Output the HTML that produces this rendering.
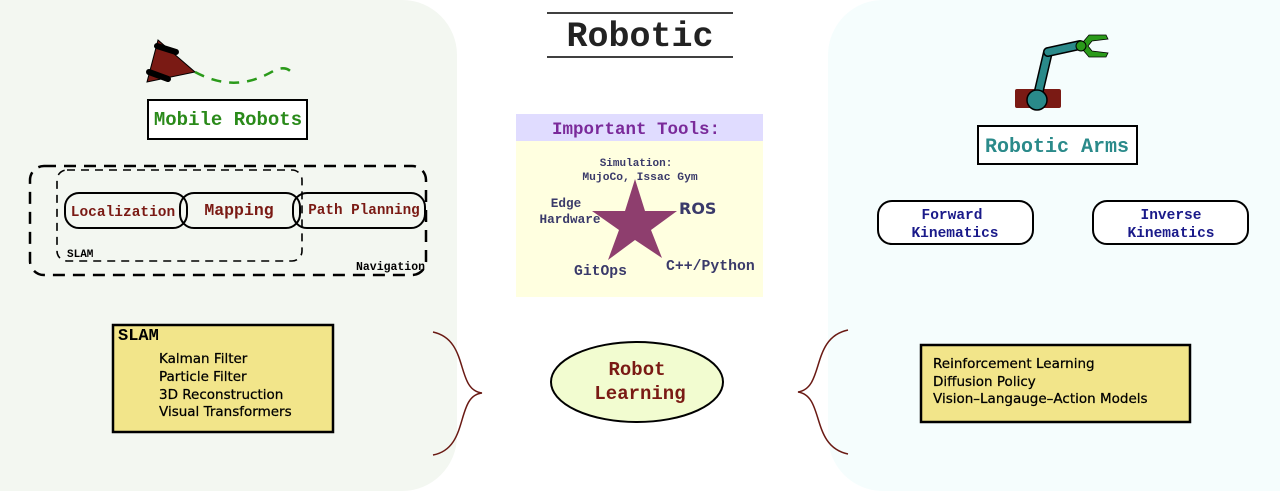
<!DOCTYPE html>
<html><head><meta charset="utf-8"><style>
html,body{margin:0;padding:0;background:#fff;overflow:hidden;width:1280px;height:491px;}
svg{display:block;}
svg text{font-family:"Liberation Mono",monospace;font-weight:bold;}
svg text.s{font-family:"DejaVu Sans","Liberation Sans",sans-serif;font-weight:normal;stroke:#000;stroke-width:0.25;}
</style></head><body>
<svg width="1280" height="491" viewBox="0 0 1280 491" xmlns="http://www.w3.org/2000/svg">
<defs><clipPath id="c"><rect x="0" y="0" width="1280" height="491"/></clipPath></defs>
<g clip-path="url(#c)">
<rect x="-60" y="0" width="517" height="491" rx="55" fill="#f3f7f1"/>
<rect x="828" y="0" width="510" height="491" rx="55" fill="#f5fdfd"/>
</g>
<!-- title -->
<line x1="547" y1="13" x2="733" y2="13" stroke="#000" stroke-width="1.5"/>
<line x1="547" y1="57" x2="733" y2="57" stroke="#000" stroke-width="1.5"/>
<text x="640" y="46" font-size="35" text-anchor="middle" fill="#222">Robotic</text>
<!-- robot -->
<polygon points="158,40 195,72 147,82" fill="#7a1a14" stroke="#000" stroke-width="1"/>
<line x1="157" y1="46" x2="176" y2="52" stroke="#000" stroke-width="6" stroke-linecap="round"/>
<line x1="149" y1="72" x2="168" y2="79" stroke="#000" stroke-width="6" stroke-linecap="round"/>
<path d="M195,72 C225,88 250,85 275,70 C285,66 290,70 292,73" fill="none" stroke="#2a9a1a" stroke-width="2.5" stroke-dasharray="10,8"/>
<rect x="148" y="100" width="159" height="39" fill="#fff" stroke="#000" stroke-width="2"/>
<text x="228" y="125" font-size="19" text-anchor="middle" fill="#2a8a1a">Mobile Robots</text>
<!-- dashed groups -->
<rect x="30" y="166" width="396" height="109" rx="14" fill="none" stroke="#000" stroke-width="2.5" stroke-dasharray="12,8"/>
<rect x="57" y="170" width="245" height="91" rx="10" fill="none" stroke="#000" stroke-width="1.6" stroke-dasharray="8,6"/>
<rect x="65" y="193" width="122" height="35" rx="14" fill="none" stroke="#000" stroke-width="2"/>
<rect x="180" y="193" width="120" height="35" rx="14" fill="none" stroke="#000" stroke-width="2"/>
<rect x="293" y="193" width="132" height="35" rx="14" fill="none" stroke="#000" stroke-width="2"/>
<text x="123" y="216" font-size="14.5" text-anchor="middle" fill="#7a1a14">Localization</text>
<text x="239" y="215" font-size="16.5" text-anchor="middle" fill="#7a1a14">Mapping</text>
<text x="364" y="214" font-size="14.3" text-anchor="middle" fill="#7a1a14">Path Planning</text>
<text x="67" y="257" font-size="11" fill="#000">SLAM</text>
<text x="356" y="270" font-size="11.5" fill="#000">Navigation</text>
<!-- SLAM box -->
<rect x="113" y="325" width="220" height="107" fill="#f2e58a" stroke="#000" stroke-width="2.5"/>
<text x="118" y="340" font-size="17" fill="#000">SLAM</text>
<text class="s" x="159" y="363" font-size="13.5" fill="#000">Kalman Filter</text>
<text class="s" x="159" y="381" font-size="13.5" fill="#000">Particle Filter</text>
<text class="s" x="159" y="399" font-size="13.5" fill="#000">3D Reconstruction</text>
<text class="s" x="159" y="416" font-size="13.5" fill="#000">Visual Transformers</text>
<!-- braces -->
<path d="M433,332 C470,340 455,390 482,393 C455,396 470,448 433,455" fill="none" stroke="#6a1a14" stroke-width="1.5"/>
<path d="M848,330 C810,338 825,388 798,392 C825,396 810,446 848,454" fill="none" stroke="#6a1a14" stroke-width="1.5"/>
<!-- tools -->
<rect x="516" y="114" width="247" height="27" fill="#e0dcff"/>
<rect x="516" y="141" width="247" height="156" fill="#ffffe0"/>
<text x="636" y="134" font-size="17.5" text-anchor="middle" fill="#7a2a9a">Important Tools:</text>
<polygon points="635,179 645,211 677,211 651,230 662,258 635,240 608,260 619,230 592,211 625,211" fill="#8e3e6e"/>
<text x="636" y="166" font-size="11" text-anchor="middle" fill="#3a3a6a">Simulation:</text>
<text x="640" y="180" font-size="11.3" text-anchor="middle" fill="#3a3a6a">MujoCo, Issac Gym</text>
<text x="566" y="207" font-size="12.7" text-anchor="middle" fill="#3a3a6a">Edge</text>
<text x="570" y="223" font-size="12.7" text-anchor="middle" fill="#3a3a6a">Hardware</text>
<text x="679" y="214" font-size="16" fill="#3a3a6a" style="font-family:'DejaVu Sans',sans-serif;font-weight:bold">ROS</text>
<text x="574" y="275" font-size="14.7" fill="#3a3a6a">GitOps</text>
<text x="666" y="270" font-size="14.8" fill="#3a3a6a">C++/Python</text>
<!-- robot learning -->
<ellipse cx="637" cy="382" rx="86" ry="40" fill="#f2fcd0" stroke="#000" stroke-width="2"/>
<text x="637" y="375" font-size="19" text-anchor="middle" fill="#7a1a14">Robot</text>
<text x="640" y="399" font-size="19" text-anchor="middle" fill="#7a1a14">Learning</text>
<!-- arm -->
<rect x="1015" y="89" width="46" height="19" rx="2" fill="#7a1a14"/>
<line x1="1037" y1="99" x2="1048" y2="52" stroke="#000" stroke-width="10" stroke-linecap="round"/>
<line x1="1037" y1="99" x2="1048" y2="52" stroke="#2a8a8a" stroke-width="7" stroke-linecap="round"/>
<line x1="1048" y1="52" x2="1080" y2="45" stroke="#000" stroke-width="10" stroke-linecap="round"/>
<line x1="1048" y1="52" x2="1080" y2="45" stroke="#2a8a8a" stroke-width="7" stroke-linecap="round"/>
<circle cx="1037" cy="100" r="10" fill="#2a8a8a" stroke="#000" stroke-width="1.5"/>
<path d="M1083,42 L1089,35 L1106,35 L1108,39 L1092,41 L1088,46 L1092,51 L1108,53 L1106,57 L1089,57 L1083,50 Z" fill="#2a9a1a" stroke="#000" stroke-width="0.8"/>
<circle cx="1081" cy="46" r="5" fill="#2a9a1a" stroke="#000" stroke-width="1"/>
<rect x="978" y="126" width="159" height="38" fill="#fff" stroke="#000" stroke-width="2"/>
<text x="1057" y="152" font-size="20" text-anchor="middle" fill="#2a8a8a">Robotic Arms</text>
<rect x="878" y="201" width="155" height="43" rx="14" fill="#fff" stroke="#000" stroke-width="2"/>
<rect x="1093" y="201" width="155" height="43" rx="14" fill="#fff" stroke="#000" stroke-width="2"/>
<text x="952" y="219" font-size="14.5" text-anchor="middle" fill="#1a1a8a">Forward</text>
<text x="955" y="237" font-size="14.5" text-anchor="middle" fill="#1a1a8a">Kinematics</text>
<text x="1171" y="219" font-size="14.5" text-anchor="middle" fill="#1a1a8a">Inverse</text>
<text x="1171" y="237" font-size="14.5" text-anchor="middle" fill="#1a1a8a">Kinematics</text>
<!-- right yellow -->
<rect x="921" y="345" width="269" height="77" fill="#f2e58a" stroke="#000" stroke-width="2.5"/>
<text class="s" x="933" y="368" font-size="13.5" fill="#000">Reinforcement Learning</text>
<text class="s" x="933" y="386" font-size="13.5" fill="#000">Diffusion Policy</text>
<text class="s" x="933" y="403" font-size="13.5" fill="#000">Vision–Langauge–Action Models</text>
</svg>
</body></html>
